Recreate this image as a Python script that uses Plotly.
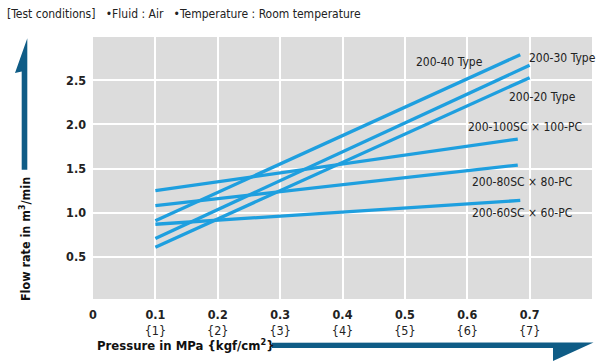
import plotly.graph_objects as go

# ---- data ----
series_names = ["200-40 Type", "200-30 Type", "200-20 Type",
                "200-100SC x 100-PC", "200-80SC x 80-PC", "200-60SC x 60-PC"]
x_start = [0.1, 0.1, 0.1, 0.1, 0.1, 0.1]
x_end = [0.685, 0.70, 0.70, 0.681, 0.681, 0.685]
y_start = [0.91, 0.71, 0.61, 1.25, 1.08, 0.87]
y_end = [2.79, 2.67, 2.53, 1.835, 1.54, 1.14]

label_x = [0.571, 0.752, 0.721, 0.692, 0.687, 0.687]
label_y = [2.71, 2.75, 2.31, 1.97, 1.35, 1.00]
label_text = ["200-40 Type", "200-30 Type", "200-20 Type",
              "200-100SC × 100-PC", "200-80SC × 80-PC", "200-60SC × 60-PC"]

x_tickvals = [0, 0.1, 0.2, 0.3, 0.4, 0.5, 0.6, 0.7]
x_ticktext = ["<b>0</b>", "<b>0.1</b><br>{1}", "<b>0.2</b><br>{2}", "<b>0.3</b><br>{3}",
              "<b>0.4</b><br>{4}", "<b>0.5</b><br>{5}", "<b>0.6</b><br>{6}", "<b>0.7</b><br>{7}"]
y_tickvals = [0.5, 1.0, 1.5, 2.0, 2.5]
y_ticktext = ["<b>0.5</b>", "<b>1.0</b>", "<b>1.5</b>", "<b>2.0</b>", "<b>2.5</b>"]

header = "[Test conditions]   •Fluid : Air   •Temperature : Room temperature"
y_title = "<b>Flow rate in m<sup>3</sup>/min</b>"
x_title = "<b>Pressure in MPa {kgf/cm<sup>2</sup>}</b>"

FONT = "DejaVu Sans Condensed, Liberation Sans Narrow, Liberation Sans, sans-serif"
LINE_COLOR = "#1e9fdf"
ARROW_COLOR = "#0f5c86"

W, H = 603, 363
L, R, T, B = 93, 11, 37, 63.5
pw, ph = W - L - R, H - T - B


def px(xp):
    return (xp - L) / pw


def py(yp):
    return (H - B - yp) / ph


fig = go.Figure()
for i, name in enumerate(series_names):
    fig.add_trace(go.Scatter(
        x=[x_start[i], x_end[i]], y=[y_start[i], y_end[i]],
        mode="lines", name=name,
        line=dict(color=LINE_COLOR, width=3.3),
        showlegend=False, hoverinfo="skip"))

for i in range(len(label_text)):
    fig.add_annotation(x=label_x[i], y=label_y[i], text=label_text[i],
                       showarrow=False, xref="x", yref="y",
                       font=dict(family=FONT, size=12, color="#222222"))


def poly(points):
    s = "M " + " L ".join(f"{px(a):.5f},{py(b):.5f}" for a, b in points) + " Z"
    return s


# y-axis arrow
fig.add_shape(type="path", xref="paper", yref="paper",
              path=poly([(21.7, 170), (27.3, 170), (27.3, 38.3), (15, 73), (21.7, 71.5)]),
              fillcolor=ARROW_COLOR, line=dict(width=0))
# x-axis arrow
fig.add_shape(type="path", xref="paper", yref="paper",
              path=poly([(272, 343.3), (593.5, 343.0), (553, 361.7), (553, 348.6), (272, 348.6)]),
              fillcolor=ARROW_COLOR, line=dict(width=0))

fig.add_annotation(x=px(5), y=py(14), xref="paper", yref="paper", text=header,
                   showarrow=False, xanchor="left", yanchor="middle",
                   font=dict(family=FONT, size=12, color="#222222"))
fig.add_annotation(x=px(24.5), y=py(240), xref="paper", yref="paper", text=y_title,
                   showarrow=False, textangle=-90, xanchor="center", yanchor="middle",
                   font=dict(family=FONT, size=12.5, color="#111111"))
fig.add_annotation(x=px(95), y=py(346), xref="paper", yref="paper", text=x_title,
                   showarrow=False, xanchor="left", yanchor="middle",
                   font=dict(family=FONT, size=13, color="#111111"))

fig.update_layout(
    width=W, height=H,
    margin=dict(l=L, r=R, t=T, b=B, pad=0),
    paper_bgcolor="white", plot_bgcolor="#dcdcdc",
    font=dict(family=FONT, size=12, color="#222222"),
    xaxis=dict(range=[0, 0.8], tickmode="array", tickvals=x_tickvals, ticktext=x_ticktext,
               showgrid=True, gridcolor="white", gridwidth=2, zeroline=False,
               showline=False, ticks="", fixedrange=True, ticklabelstandoff=6,
               tickfont=dict(family=FONT, size=12.5, color="#222222")),
    yaxis=dict(range=[0.024, 2.99], tickmode="array", tickvals=y_tickvals, ticktext=y_ticktext,
               showgrid=True, gridcolor="white", gridwidth=2, zeroline=False,
               showline=False, ticks="", fixedrange=True, ticklabelstandoff=6,
               tickfont=dict(family=FONT, size=12.5, color="#222222")),
)

fig.write_html("out.html", config={"displayModeBar": False},
               post_script="document.body.style.margin='0';document.body.style.overflow='hidden';")
